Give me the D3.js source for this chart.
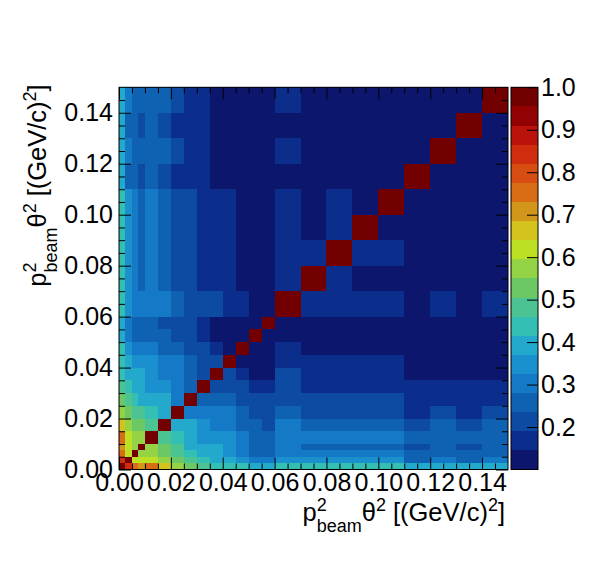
<!DOCTYPE html>
<html><head><meta charset="utf-8">
<script src="https://cdn.jsdelivr.net/npm/d3@7"></script>
<style>
body{margin:0;background:#fff}
svg{display:block}
text{font-family:"Liberation Sans",Arial,Helvetica,sans-serif;fill:#000}
</style>
</head><body>
<svg id="chart" width="598" height="586"></svg>
<script>
// ---------------- data ----------------
const binEdges = [0,0.0025,0.005,0.0075,0.01,0.015,0.02,0.025,0.03,0.035,0.04,0.045,0.05,0.055,0.06,0.07,0.08,0.09,0.10,0.11,0.12,0.13,0.14,0.15];

// lower triangle of the symmetric correlation matrix: row j holds columns 0..j-1 (diagonal = 1)
const row01 = [0.84];
const row02 = [0.75,0.62];
const row03 = [0.71,0.62,0.57];
const row04 = [0.75,0.63,0.59,0.56];
const row05 = [0.66,0.58,0.53,0.52,0.49];
const row06 = [0.59,0.52,0.48,0.46,0.44,0.40];
const row07 = [0.53,0.46,0.43,0.39,0.39,0.37,0.30];
const row08 = [0.48,0.44,0.40,0.39,0.35,0.33,0.30,0.26];
const row09 = [0.45,0.40,0.38,0.37,0.35,0.32,0.29,0.26,0.22];
const row10 = [0.44,0.38,0.35,0.35,0.34,0.31,0.28,0.24,0.22,0.19];
const row11 = [0.42,0.34,0.31,0.31,0.30,0.27,0.24,0.22,0.19,0.17,0.14];
const row12 = [0.40,0.30,0.27,0.27,0.27,0.24,0.21,0.19,0.17,0.13,0.12,0.12];
const row13 = [0.39,0.30,0.27,0.27,0.26,0.23,0.21,0.19,0.18,0.13,0.12,0.12,0.12];
const row14 = [0.44,0.35,0.32,0.31,0.32,0.29,0.27,0.23,0.22,0.19,0.18,0.17,0.14,0.14];
const row15 = [0.43,0.33,0.31,0.27,0.32,0.27,0.23,0.21,0.17,0.17,0.17,0.12,0.12,0.12,0.17];
const row16 = [0.44,0.33,0.31,0.27,0.32,0.27,0.23,0.21,0.17,0.17,0.17,0.12,0.12,0.12,0.17,0.17];
const row17 = [0.43,0.33,0.31,0.27,0.32,0.27,0.23,0.21,0.17,0.17,0.17,0.12,0.12,0.12,0.17,0.12,0.17];
const row18 = [0.43,0.33,0.31,0.27,0.32,0.27,0.23,0.21,0.17,0.17,0.17,0.12,0.12,0.12,0.17,0.12,0.17,0.12];
const row19 = [0.39,0.26,0.26,0.22,0.26,0.22,0.17,0.17,0.17,0.12,0.12,0.12,0.12,0.12,0.12,0.12,0.12,0.12,0.12];
const row20 = [0.39,0.30,0.26,0.26,0.26,0.25,0.22,0.17,0.17,0.12,0.12,0.12,0.12,0.12,0.17,0.12,0.12,0.12,0.12,0.12];
const row21 = [0.39,0.26,0.26,0.22,0.26,0.22,0.17,0.17,0.17,0.12,0.12,0.12,0.12,0.12,0.12,0.12,0.12,0.12,0.12,0.12,0.12];
const row22 = [0.38,0.30,0.26,0.26,0.26,0.25,0.22,0.17,0.17,0.12,0.12,0.12,0.12,0.12,0.17,0.12,0.12,0.12,0.12,0.12,0.12,0.12];
const lowerRows = [[],row01,row02,row03,row04,row05,row06,row07,row08,row09,row10,row11,row12,row13,row14,row15,row16,row17,row18,row19,row20,row21,row22];

const axisTicks = [0,0.02,0.04,0.06,0.08,0.10,0.12,0.14];
const minorTicks = [0.005,0.01,0.015,0.025,0.03,0.035,0.045,0.05,0.055,0.065,0.07,0.075,0.085,0.09,0.095,0.105,0.11,0.115,0.125,0.13,0.135,0.145];
const zTicks = [0.2,0.3,0.4,0.5,0.6,0.7,0.8,0.9,1.0];
const zRange = [0.1,1.0];
const paletteColors = ["#0b166c","#0b2d8c","#0d4aa2","#0f62b2","#1479c6","#1a90cf","#22a9cc","#33bfb4","#4cc393","#6cc864",
                       "#93d345","#bce024","#d4c31d","#d2961a","#d96d15","#d74d12","#cf2c10","#bb120c","#920202","#730000"];

// ---------------- layout ----------------
const X0=119, X1=508, Y0=469.5, Y1=87.3;
const CB0=511, CB1=538;
const svg = d3.select("#chart");

const x = d3.scaleLinear().domain([0,0.15]).range([X0,X1]);
const y = d3.scaleLinear().domain([0,0.15]).range([Y0,Y1]);
const color = d3.scaleQuantize().domain(zRange).range(paletteColors);
const z = d3.scaleLinear().domain(zRange).range([Y0,Y1]);

const n = binEdges.length-1;
const cells = [];
for(let j=0;j<n;j++) for(let i=0;i<n;i++){
  const v = i===j ? 1.0 : (i<j ? lowerRows[j][i] : lowerRows[i][j]);
  cells.push({i,j,v});
}

svg.append("g").attr("shape-rendering","crispEdges")
  .selectAll("rect").data(cells).join("rect")
  .attr("x",d=>x(binEdges[d.i]))
  .attr("width",d=>x(binEdges[d.i+1])-x(binEdges[d.i]))
  .attr("y",d=>y(binEdges[d.j+1]))
  .attr("height",d=>y(binEdges[d.j])-y(binEdges[d.j+1]))
  .attr("fill",d=>color(d.v));

function styleAxis(g){
  g.select(".domain").remove();
  g.selectAll(".tick line").attr("stroke","#000").attr("stroke-width",1);
  g.selectAll("text").attr("font-size",25).attr("font-family","'Liberation Sans',Arial,sans-serif").attr("fill","#000");
}
const fmt2 = d3.format(".2f");
// bottom
svg.append("g").attr("transform",`translate(0,${Y0})`)
  .call(d3.axisBottom(x).tickValues(axisTicks).tickSize(-12).tickSizeOuter(0).tickPadding(4).tickFormat(fmt2)).call(styleAxis);
svg.append("g").attr("transform",`translate(0,${Y0})`)
  .call(d3.axisBottom(x).tickValues(minorTicks).tickSize(-6).tickSizeOuter(0).tickFormat("")).call(styleAxis);
// top
svg.append("g").attr("transform",`translate(0,${Y1})`)
  .call(d3.axisTop(x).tickValues(axisTicks).tickSize(-12).tickSizeOuter(0).tickFormat("")).call(styleAxis);
svg.append("g").attr("transform",`translate(0,${Y1})`)
  .call(d3.axisTop(x).tickValues(minorTicks).tickSize(-6).tickSizeOuter(0).tickFormat("")).call(styleAxis);
// left
svg.append("g").attr("transform",`translate(${X0},0)`)
  .call(d3.axisLeft(y).tickValues(axisTicks).tickSize(-12).tickSizeOuter(0).tickPadding(6).tickFormat(fmt2)).call(styleAxis);
svg.append("g").attr("transform",`translate(${X0},0)`)
  .call(d3.axisLeft(y).tickValues(minorTicks).tickSize(-6).tickSizeOuter(0).tickFormat("")).call(styleAxis);
// right
svg.append("g").attr("transform",`translate(${X1},0)`)
  .call(d3.axisRight(y).tickValues(axisTicks).tickSize(-12).tickSizeOuter(0).tickFormat("")).call(styleAxis);
svg.append("g").attr("transform",`translate(${X1},0)`)
  .call(d3.axisRight(y).tickValues(minorTicks).tickSize(-6).tickSizeOuter(0).tickFormat("")).call(styleAxis);

// frame
svg.append("rect").attr("x",X0).attr("y",Y1).attr("width",X1-X0).attr("height",Y0-Y1)
  .attr("fill","none").attr("stroke","#000").attr("stroke-width",1);

// colour bar
const bands = d3.range(paletteColors.length).map(k=>({k,lo:zRange[0]+k*(zRange[1]-zRange[0])/paletteColors.length,hi:zRange[0]+(k+1)*(zRange[1]-zRange[0])/paletteColors.length}));
svg.append("g").attr("shape-rendering","crispEdges").selectAll("rect").data(bands).join("rect")
  .attr("x",CB0).attr("width",CB1-CB0)
  .attr("y",d=>z(d.hi)).attr("height",d=>z(d.lo)-z(d.hi))
  .attr("fill",d=>paletteColors[d.k]);
svg.append("rect").attr("x",CB0).attr("y",Y1).attr("width",CB1-CB0).attr("height",Y0-Y1)
  .attr("fill","none").attr("stroke","#000").attr("stroke-width",1);
svg.append("g").attr("transform",`translate(${CB1},0)`)
  .call(d3.axisRight(z).tickValues(zTicks).tickSize(-11).tickSizeOuter(0).tickPadding(3).tickFormat(d3.format(".1f"))).call(styleAxis);

// axis titles
function drawTitle(g){
  let pos=0;
  const main=25.5, small=18;
  function piece(str,size,dy){
    const t=g.append("text").attr("x",pos).attr("y",dy).attr("font-size",size).text(str);
    return t.node().getComputedTextLength();
  }
  pos += piece("p",main,0);
  const a=piece("2",small,-10), b=piece("beam",small,11);
  pos += Math.max(a,b);
  pos += piece("\u03b8",main,0);
  pos += piece("2",small,-10);
  pos += 7;
  pos += piece("[(GeV/c)",main,0);
  pos += piece("2",small,-10);
  pos += piece("]",main,0);
  return pos;
}
const gxT = svg.append("g");
const wx = drawTitle(gxT);
gxT.attr("transform",`translate(${X1-3-wx},521)`);
const gyT = svg.append("g");
const wy = drawTitle(gyT);
gyT.attr("transform",`translate(46,${Y1-3+wy}) rotate(-90)`);
</script>
</body></html>
